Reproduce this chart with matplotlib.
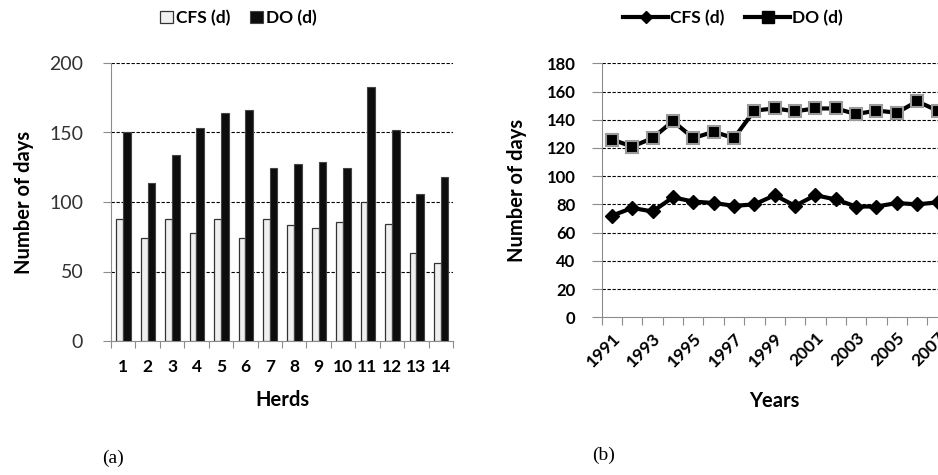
import matplotlib
matplotlib.use("Agg")
import matplotlib.pyplot as plt
from matplotlib.patches import Patch
from matplotlib.lines import Line2D
import numpy as np

plt.rcParams['font.family'] = ['Lato', 'DejaVu Sans']

# (a) herds
herds = [str(i) for i in range(1, 15)]
cfs_herd = [88, 74, 87.5, 78, 88, 74, 87.5, 83.5, 81, 85.5, 100, 84.5, 63.5, 56]
do_herd = [150.5, 114, 134, 153, 164, 166, 124.5, 127.5, 129, 124.5, 182.5, 151.5, 106, 118]

# (b) years
years = [str(y) for y in range(1991, 2008)]
cfs_year = [72, 77.5, 75, 85, 82, 81, 79, 80, 86.5, 79, 86.5, 83.5, 78.5, 78.5, 81, 80, 81.5]
do_year = [126, 121, 127, 139, 127, 131.5, 127, 146.5, 148, 146, 148, 148, 144, 146.5, 145, 153, 146.5]

W, H = 938, 475
fig = plt.figure(figsize=(W / 100, H / 100), dpi=100)

def px_axes(x0, x1, y0, y1):
    return fig.add_axes([x0 / W, 1 - y1 / H, (x1 - x0) / W, (y1 - y0) / H])

spine_col = '#8c8c8c'

# ---- left: bar chart ----
ax1 = px_axes(111, 453, 63, 341)
x = np.arange(len(herds))
ax1.bar(x - 0.14, cfs_herd, width=0.27, color='#f0f0f0', edgecolor='#333333', linewidth=0.9, zorder=3)
ax1.bar(x + 0.155, do_herd, width=0.32, color='#0d0d0d', edgecolor='#444444', linewidth=0.8, zorder=3)
ax1.set_xlim(-0.5, len(herds) - 0.5)
ax1.set_ylim(0, 200)
ax1.set_yticks([0, 50, 100, 150, 200])
ax1.set_xticks(np.arange(-0.5, len(herds), 1.0))
ax1.set_xticklabels([])
ax1.set_xticks(x, minor=True)
ax1.set_xticklabels(herds, minor=True, fontweight='bold', fontsize=12.5)
ax1.tick_params(axis='x', which='minor', length=0, pad=13)
ax1.tick_params(axis='x', which='major', length=5, color=spine_col, direction='out')
ax1.tick_params(axis='y', length=6, color=spine_col, pad=14, labelsize=14, labelcolor='#333333')
for yv in [50, 100, 150, 200]:
    ax1.axhline(yv, color='black', linestyle=(0, (3, 1.5)), linewidth=0.8, zorder=1)
for s in ['top', 'right']:
    ax1.spines[s].set_visible(False)
ax1.spines['left'].set_color(spine_col)
ax1.spines['bottom'].set_color(spine_col)
ax1.set_ylabel('Number of days', fontweight='bold', fontsize=14.5, labelpad=11)
ax1.set_xlabel('Herds', fontweight='bold', fontsize=14.5, labelpad=11)

h1 = [Patch(facecolor='#f0f0f0', edgecolor='#333333', linewidth=0.9),
      Patch(facecolor='#0d0d0d', edgecolor='#444444', linewidth=0.8)]
fig.legend(h1, ['CFS (d)', 'DO (d)'], loc='center', bbox_to_anchor=(238.5 / W, 1 - 18 / H),
           ncol=2, frameon=False, handlelength=0.75, handleheight=0.75, handletextpad=0.2,
           columnspacing=1.1, prop={'weight': 'bold', 'size': 12.5})

# ---- right: line chart ----
ax2 = px_axes(601.7, 947.7, 63.3, 317.3)
xi = np.arange(len(years))
ax2.plot(xi, cfs_year, color='black', linewidth=3, marker='D', markersize=7,
         markerfacecolor='black', markeredgecolor='black', zorder=4, clip_on=False)
ax2.plot(xi, do_year, color='black', linewidth=3, marker='s', markersize=9,
         markerfacecolor='black', markeredgecolor='#9a9a9a', markeredgewidth=1.5, zorder=4, clip_on=False)
ax2.set_xlim(-0.5, len(years) - 0.5)
ax2.set_ylim(0, 180)
ax2.set_yticks(range(0, 181, 20))
ax2.set_xticks(np.arange(-0.5, len(years), 1.0))
ax2.set_xticklabels([])
ax2.set_xticks(xi[::2], minor=True)
ax2.set_xticklabels(years[::2], minor=True, rotation=45, ha='right', rotation_mode='anchor',
                    fontweight='bold', fontsize=12.5)
ax2.tick_params(axis='x', which='minor', length=0, pad=9)
ax2.tick_params(axis='x', which='major', length=6, color=spine_col, direction='out')
ax2.tick_params(axis='y', length=7, color=spine_col, pad=12)
for lab in ax2.get_yticklabels():
    lab.set_fontweight('bold')
    lab.set_fontsize(12)
for yv in range(20, 181, 20):
    ax2.axhline(yv, color='black', linestyle=(0, (3, 1.5)), linewidth=0.8, zorder=1)
for s in ['top', 'right']:
    ax2.spines[s].set_visible(False)
ax2.spines['left'].set_color(spine_col)
ax2.spines['bottom'].set_color(spine_col)
ax2.set_ylabel('Number of days', fontweight='bold', fontsize=14.5, labelpad=14)
ax2.set_xlabel('Years', fontweight='bold', fontsize=14.5, labelpad=15)

h2 = [Line2D([], [], color='black', linewidth=3, marker='D', markersize=6),
      Line2D([], [], color='black', linewidth=3, marker='s', markersize=8)]
fig.legend(h2, ['CFS (d)', 'DO (d)'], loc='center', bbox_to_anchor=(733 / W, 1 - 18 / H),
           ncol=2, frameon=False, handlelength=2.6, handletextpad=0.1,
           columnspacing=1.2, prop={'weight': 'bold', 'size': 12.5})

fig.text(113 / W, 1 - 458 / H, '(a)', family='Liberation Serif', fontsize=14, ha='center', va='center')
fig.text(604 / W, 1 - 455 / H, '(b)', family='Liberation Serif', fontsize=14, ha='center', va='center')

fig.savefig('out.png', dpi=100)
